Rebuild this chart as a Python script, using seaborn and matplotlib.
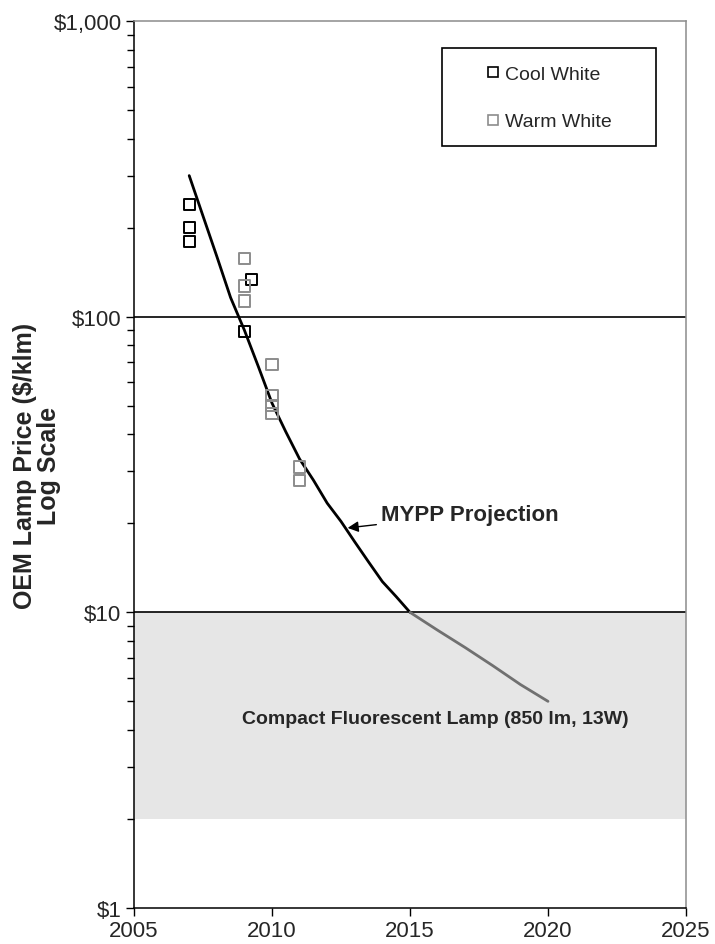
import numpy as np
import pandas as pd
import seaborn as sns
import matplotlib.pyplot as plt
from matplotlib.lines import Line2D
from matplotlib.patches import Rectangle
from matplotlib.ticker import FixedLocator, FuncFormatter, LogLocator, NullFormatter

# data
cool_years = [2007, 2007, 2007, 2009.25, 2009]
cool_price = [239, 200, 179, 134, 89]
warm_years = [2009, 2009, 2009, 2010, 2010, 2010, 2010, 2011, 2011]
warm_price = [157, 127, 113, 69, 54, 50, 47, 31, 28]

# MYPP projection curve (read every half year)
mypp_years = [2007, 2007.5, 2008, 2008.5, 2009, 2009.5, 2010, 2010.5, 2011, 2011.5,
              2012, 2012.5, 2013, 2013.5, 2014, 2014.5, 2015]
mypp_price = [300, 219, 160, 116, 90, 68, 51, 40.8, 33, 28,
              23.4, 20.3, 17.3, 14.8, 12.7, 11.3, 10]
tail_years = [2015, 2016, 2017, 2018, 2019, 2020]
tail_price = [10, 8.7, 7.6, 6.6, 5.7, 5.0]

cfl_low, cfl_high = 2, 10
x_ticks = [2005, 2010, 2015, 2020, 2025]
y_ticks = [1, 10, 100, 1000]

sns.set_style("white")
plt.rcParams['font.family'] = ['Liberation Sans', 'DejaVu Sans']

fig = plt.figure(figsize=(7.15, 9.45), dpi=100)
ax = fig.add_axes([134/715, 1 - 909/945, 552/715, 887/945])

ax.set_yscale('log')
ax.set_xlim(2005, 2025)
ax.set_ylim(1, 1000)

# CFL price band
ax.axhspan(cfl_low, cfl_high, color='#e6e6e6', zorder=0, lw=0)
for v in [10, 100]:
    ax.axhline(v, color='black', lw=1.2, zorder=1)

pts = pd.concat([
    pd.DataFrame({'year': cool_years, 'price': cool_price, 'type': 'Cool White'}),
    pd.DataFrame({'year': warm_years, 'price': warm_price, 'type': 'Warm White'}),
])
proj = pd.DataFrame({'year': mypp_years, 'price': mypp_price})
tail = pd.DataFrame({'year': tail_years, 'price': tail_price})

sns.lineplot(data=proj, x='year', y='price', color='black', lw=2, ax=ax, zorder=3)
sns.lineplot(data=tail, x='year', y='price', color='#707070', lw=2, ax=ax, zorder=3)
sns.scatterplot(data=pts, x='year', y='price', hue='type', marker='s', s=64,
                palette={'Cool White': 'none', 'Warm White': 'none'},
                edgecolor=['black'] * len(cool_years) + ['#8c8c8c'] * len(warm_years),
                linewidth=1.4, legend=False, ax=ax, zorder=4)

ax.annotate('MYPP Projection', xy=(2012.74, 19.3), xytext=(2013.95, 21.5),
            ha='left', va='center', fontsize=16, fontweight='bold',
            arrowprops=dict(arrowstyle='-|>', color='black', lw=1, mutation_scale=16,
                            shrinkA=1, shrinkB=0))
ax.text(2015.9, 4.36, 'Compact Fluorescent Lamp (850 lm, 13W)', ha='center', va='center',
        fontsize=14, fontweight='bold')

# legend with a plain rectangle frame
ax.add_patch(Rectangle((0.5574, 0.8594), 0.388, 0.1098, transform=ax.transAxes,
                       fill=False, edgecolor='black', lw=1.2, zorder=5))
handles = [Line2D([], [], ls='none', marker='s', ms=7, mfc='white', mec='black', mew=1.2),
           Line2D([], [], ls='none', marker='s', ms=7, mfc='white', mec='#8c8c8c', mew=1.2)]
ax.legend(handles, ['Cool White', 'Warm White'], loc='center left',
          bbox_to_anchor=(0.6395, 0.9134), frameon=False, fontsize=14,
          borderpad=0, borderaxespad=0, handlelength=0.6, handletextpad=0.3,
          labelspacing=1.55)

ax.xaxis.set_major_locator(FixedLocator(x_ticks))
ax.yaxis.set_major_locator(FixedLocator(y_ticks))
ax.yaxis.set_major_formatter(FuncFormatter(lambda v, p: '${:,.0f}'.format(v)))
ax.yaxis.set_minor_locator(LogLocator(base=10, subs=np.arange(2, 10)))
ax.yaxis.set_minor_formatter(NullFormatter())
ax.tick_params(axis='both', which='major', direction='out', length=6, width=1,
               color='black', labelsize=16, left=True, bottom=True, pad=3)
ax.tick_params(axis='y', which='minor', direction='out', length=5, width=1,
               color='black', left=True)

ax.set_xlabel('')
ax.set_ylabel('OEM Lamp Price ($/klm)\nLog Scale', fontsize=18, fontweight='bold',
              va='center', linespacing=1.0)
ax.yaxis.set_label_coords(-0.175, 0.5)

for side in ['left', 'bottom']:
    ax.spines[side].set_color('black')
    ax.spines[side].set_linewidth(1.1)
for side in ['top', 'right']:
    ax.spines[side].set_color('#8c8c8c')
    ax.spines[side].set_linewidth(1.1)

fig.savefig('out.png', dpi=100)
